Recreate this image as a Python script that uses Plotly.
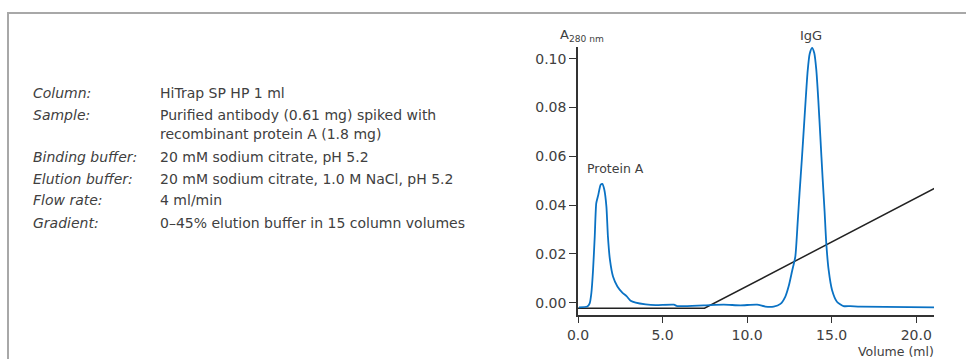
import plotly.graph_objects as go

# ---- data ----
vol_a280 = [0.06, 0.55, 0.69, 0.79, 0.89, 0.99, 1.08, 1.20, 1.34, 1.44, 1.56, 1.68, 1.77, 1.89,
            2.07, 2.33, 2.62, 2.87, 3.11, 3.41, 4.00, 4.59, 5.67, 5.87, 7.44, 8.62, 9.60,
            10.59, 11.08, 11.57, 11.97, 12.26, 12.46, 12.66, 12.85, 12.99, 13.10, 13.24,
            13.34, 13.46, 13.58, 13.70, 13.84, 13.97, 14.09, 14.21, 14.33, 14.46, 14.58,
            14.68, 14.82, 15.02, 15.31, 15.70, 16.10, 16.69, 21.10]
a280 = [-0.0019, -0.0016, -0.0003, 0.0039, 0.0134, 0.0271, 0.0408, 0.0442, 0.0483, 0.0487,
        0.0462, 0.0394, 0.0271, 0.0175, 0.0107, 0.0066, 0.0041, 0.0027, 0.0008, 0.0000,
        -0.0007, -0.0010, -0.0008, -0.0014, -0.0011, -0.0008, -0.0011, -0.0008, -0.0016,
        -0.0016, -0.0005, 0.0025, 0.0068, 0.0130, 0.0189, 0.0330, 0.0450, 0.0592, 0.0700,
        0.0830, 0.0950, 0.1020, 0.1044, 0.1023, 0.0955, 0.0830, 0.0680, 0.0515, 0.0375,
        0.0244, 0.0134, 0.0052, 0.0004, -0.0014, -0.0014, -0.0016, -0.0019]

vol_grad = [0.0, 7.48, 21.1]
gradient = [-0.0023, -0.0023, 0.0469]

y_ticks = [0.00, 0.02, 0.04, 0.06, 0.08, 0.10]
x_ticks = [0.0, 5.0, 10.0, 15.0, 20.0]

info_labels = ["Column:", "Sample:", "", "Binding buffer:", "Elution buffer:", "Flow rate:", "Gradient:"]
info_values = ["HiTrap SP HP 1 ml",
               "Purified antibody (0.61 mg) spiked with",
               "recombinant protein A (1.8 mg)",
               "20 mM sodium citrate, pH 5.2",
               "20 mM sodium citrate, 1.0 M NaCl, pH 5.2",
               "4 ml/min",
               "0\u201345% elution buffer in 15 column volumes"]

# ---- layout geometry (pixels) ----
W, H = 966, 359
L, R, T, B = 578, 934, 47, 315


def px(x):
    return (x - L) / (R - L)


def py(y):
    return (B - y) / (B - T)


FONT = "DejaVu Sans"
TXT = "#404040"

fig = go.Figure()
fig.add_trace(go.Scatter(x=vol_grad, y=gradient, mode="lines",
                         line=dict(color="#222222", width=1.5), hoverinfo="skip"))
fig.add_trace(go.Scatter(x=vol_a280, y=a280, mode="lines",
                         line=dict(color="#0a72c4", width=1.8, shape="spline", smoothing=0.6)))

annotations = []
row_y = [93, 115, 134, 157, 179, 200, 223]
for lab, val, yy in zip(info_labels, info_values, row_y):
    if lab:
        annotations.append(dict(xref="paper", yref="paper", x=px(31), y=py(yy),
                                text="<i>" + lab + "</i>", showarrow=False,
                                xanchor="left", yanchor="middle",
                                font=dict(family=FONT, size=14, color=TXT)))
    annotations.append(dict(xref="paper", yref="paper", x=px(158), y=py(yy),
                            text=val, showarrow=False, xanchor="left", yanchor="middle",
                            font=dict(family=FONT, size=14, color=TXT)))

annotations += [
    dict(xref="paper", yref="paper", x=px(558), y=py(35),
         text="A<sub>280 nm</sub>", showarrow=False, xanchor="left", yanchor="middle",
         font=dict(family=FONT, size=13, color=TXT)),
    dict(xref="paper", yref="paper", x=px(936), y=py(351),
         text="Volume (ml)", showarrow=False, xanchor="right", yanchor="middle",
         font=dict(family=FONT, size=12.5, color=TXT)),
    dict(xref="paper", yref="paper", x=px(811), y=py(35),
         text="IgG", showarrow=False, xanchor="center", yanchor="middle",
         font=dict(family=FONT, size=13, color=TXT)),
    dict(xref="paper", yref="paper", x=px(615), y=py(168),
         text="Protein A", showarrow=False, xanchor="center", yanchor="middle",
         font=dict(family=FONT, size=12.5, color=TXT)),
]

frame = "M {a},{b} L {c},{b} L {c},{d}".format(a=px(980), b=py(13), c=px(8), d=py(370))

fig.update_layout(
    width=W, height=H,
    margin=dict(l=L, r=W - R, t=T, b=H - B, pad=0),
    paper_bgcolor="white", plot_bgcolor="white",
    showlegend=False,
    font=dict(family=FONT, size=13, color=TXT),
    annotations=annotations,
    shapes=[dict(type="path", xref="paper", yref="paper", path=frame,
                 line=dict(color="#a8a8a8", width=2))],
    xaxis=dict(range=[0.0, 21.05], tickvals=x_ticks,
               ticktext=["%.1f" % v for v in x_ticks],
               showgrid=False, zeroline=False, showline=True,
               linecolor="#333333", linewidth=1.5,
               ticks="outside", ticklen=6, tickwidth=1.2, tickcolor="#333333",
               tickfont=dict(family=FONT, size=14, color=TXT)),
    yaxis=dict(range=[-0.00505, 0.1048], tickvals=y_ticks,
               ticktext=["%.2f" % v for v in y_ticks],
               showgrid=False, zeroline=False, showline=True,
               linecolor="#333333", linewidth=1.5,
               ticks="outside", ticklen=7, tickwidth=1.2, tickcolor="#333333",
               tickfont=dict(family=FONT, size=14, color=TXT)),
)

fig.write_html("out.html", config={"displayModeBar": False},
               post_script="document.body.style.margin='0px';")
